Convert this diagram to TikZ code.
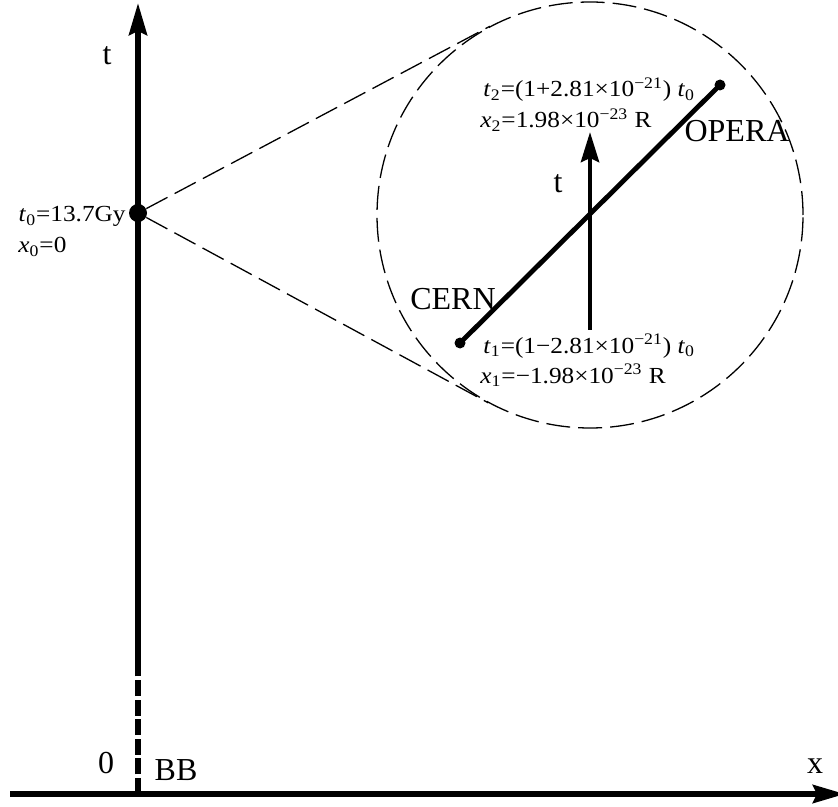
\documentclass[tikz,border=0pt]{standalone}
\usepackage{fontspec}
\setmainfont{Liberation Serif}
\newfontfamily\widefont[FakeStretch=1.1]{Liberation Serif}
\usetikzlibrary{arrows.meta, positioning, calc}

\begin{document}
\begin{tikzpicture}[
    x=0.5pt, y=-0.5pt,
    axis/.style={line width=2.8pt},
    inner/.style={line width=2.4pt},
    tip/.style={-{Stealth[length=16pt, width=9pt, inset=2pt]}},
    thindash/.style={line width=0.65pt, dash pattern=on 12pt off 4pt},
    bigdot/.style={circle, fill=black, inner sep=0pt, minimum size=9pt},
    smalldot/.style={circle, fill=black, inner sep=0pt, minimum size=5.5pt},
    biglbl/.style={font=\fontsize{16}{19}\selectfont, inner sep=0pt},
    smalllbl/.style={font=\widefont\fontsize{11.5}{15}\selectfont, inner sep=0pt},
  ]
    \useasboundingbox (0,0) rectangle (838,806);

    % ── Axes ─────────────────────────────────────
    \coordinate (xstart) at (10,794);
    \coordinate (xend) at (845,794);
    \coordinate (origin) at (138,794);
    \coordinate (bbend) at (138,665);
    \coordinate (tend) at (138,3);
    \draw[axis, tip] (xstart) -- (xend);
    \draw[axis, dash pattern=on 8pt off 1.8pt] (origin) -- (bbend);
    \draw[axis, tip] (bbend) -- (tend);

    \node[biglbl] (tlbl) at (107,56) {t};
    \node[biglbl] (xlbl) at (815,766) {x};
    \node[biglbl] (zero) at (106,763) {0};
    \node[biglbl] (bb) at (176,770) {BB};

    % ── Present epoch ────────────────────────────
    \node[bigdot] (now) at (138,213) {};
    \node[smalllbl, anchor=base east] (t0lbl) at (126,222)
      {\textit{t}\textsubscript{0}=13.7Gy};
    \node[smalllbl, anchor=base west] (x0lbl) at (18,253)
      {\textit{x}\textsubscript{0}=0};

    % ── Magnified view ───────────────────────────
    \node[circle, draw, thindash, inner sep=0pt, minimum size=213pt] (zoom) at (590,215) {};
    \draw[thindash] (now) -- (tangent cs:node=zoom, point={(now)}, solution=1);
    \draw[thindash] (now) -- (tangent cs:node=zoom, point={(now)}, solution=2);

    \node[smalldot] (cern) at (460,343) {};
    \node[smalldot] (opera) at (720,85) {};
    \draw[inner] (cern.center) -- (opera.center);

    \coordinate (tbase) at (590,330);
    \coordinate (ttip) at (590,132);
    \draw[inner, -{Stealth[length=15pt, width=9pt, inset=2pt]}] (tbase) -- (ttip);

    \node[biglbl] (tin) at (558,184) {t};
    \node[biglbl] (cernlbl) at (453,299) {CERN};
    \node[biglbl] (operalbl) at (737,131) {OPERA};

    % ── Event coordinates ────────────────────────
    \node[smalllbl, anchor=base west] (t2lbl) at (483,97)
      {\textit{t}\textsubscript{2}=(1+2.81×10\textsuperscript{−21})~\textit{t}\textsubscript{0}};
    \node[smalllbl, anchor=base west] (x2lbl) at (480,128)
      {\textit{x}\textsubscript{2}=1.98×10\textsuperscript{−23}~R};
    \node[smalllbl, anchor=base west] (t1lbl) at (483,353)
      {\textit{t}\textsubscript{1}=(1−2.81×10\textsuperscript{−21})~\textit{t}\textsubscript{0}};
    \node[smalllbl, anchor=base west] (x1lbl) at (480,383)
      {\textit{x}\textsubscript{1}=−1.98×10\textsuperscript{−23}~R};
  \end{tikzpicture}
\end{document}
